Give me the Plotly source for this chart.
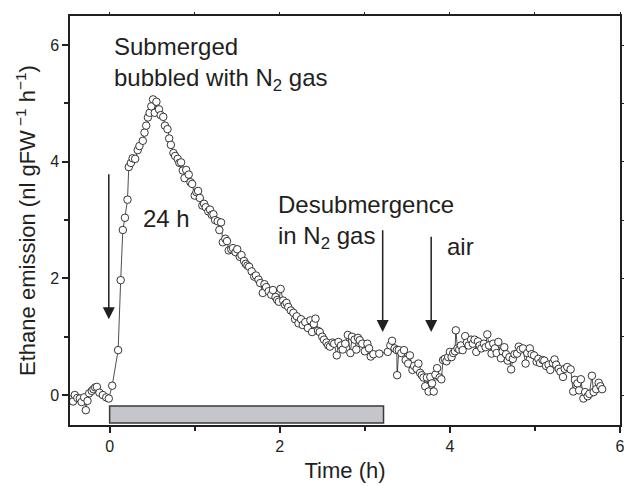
import plotly.graph_objects as go

# ---- data ----
time_h = [
    -0.46, -0.43, -0.41, -0.38, -0.35, -0.33, -0.30, -0.28, -0.26, -0.24, -0.21, -0.19, -0.17, -0.15, -0.12, -0.08, -0.04, -0.01,
    0.03, 0.10, 0.13, 0.155, 0.18, 0.21, 0.225, 0.25, 0.27, 0.30, 0.33, 0.35, 0.39, 0.41, 0.43, 0.45, 0.47, 0.49, 0.51, 0.53,
    0.55, 0.58, 0.60, 0.63, 0.65, 0.68, 0.70, 0.72, 0.75, 0.77, 0.80, 0.82, 0.84, 0.86, 0.88, 0.90, 0.93, 0.95, 0.97, 1.00,
    1.02, 1.04, 1.06, 1.09, 1.11, 1.13, 1.16, 1.18, 1.20, 1.22, 1.24, 1.27, 1.29, 1.31, 1.33, 1.36, 1.38, 1.40, 1.43, 1.45,
    1.48, 1.50, 1.53, 1.55, 1.58, 1.60, 1.62, 1.64, 1.67, 1.70, 1.72, 1.75, 1.77, 1.80, 1.82, 1.84, 1.87, 1.90, 1.92, 1.95,
    1.97, 1.99, 2.01, 2.04, 2.06, 2.08, 2.10, 2.13, 2.16, 2.18, 2.20, 2.22, 2.25, 2.27, 2.30, 2.33, 2.36, 2.38, 2.40, 2.42,
    2.45, 2.47, 2.50, 2.52, 2.55, 2.57, 2.59, 2.62, 2.64, 2.67, 2.69, 2.72, 2.74, 2.77, 2.80, 2.83, 2.85, 2.88, 2.90, 2.92,
    2.94, 2.97, 3.00, 3.03, 3.05, 3.07, 3.10, 3.17, 3.27, 3.30, 3.32, 3.35, 3.375, 3.38, 3.40, 3.43, 3.46, 3.48, 3.51, 3.53,
    3.56, 3.58, 3.61, 3.63, 3.65, 3.67, 3.69, 3.71, 3.73, 3.75, 3.77, 3.79, 3.81, 3.83, 3.85, 3.88, 3.90, 3.92, 3.94, 3.96,
    3.98, 4.00, 4.02, 4.04, 4.06, 4.07, 4.09, 4.11, 4.13, 4.15, 4.18, 4.20, 4.22, 4.25, 4.27, 4.29, 4.31, 4.33, 4.35, 4.37,
    4.40, 4.42, 4.44, 4.46, 4.49, 4.51, 4.53, 4.55, 4.57, 4.60, 4.62, 4.64, 4.66, 4.68, 4.70, 4.72, 4.74, 4.76, 4.79, 4.81,
    4.83, 4.86, 4.89, 4.91, 4.94, 4.96, 4.99, 5.02, 5.04, 5.06, 5.09, 5.11, 5.13, 5.16, 5.18, 5.21, 5.23, 5.25, 5.28, 5.30,
    5.33, 5.35, 5.38, 5.42, 5.45, 5.47, 5.50, 5.52, 5.54, 5.57, 5.59, 5.62, 5.64, 5.67, 5.69, 5.72, 5.75, 5.77, 5.79,
]
ethane = [
    -0.08, -0.11, 0.00, -0.05, -0.06, -0.12, -0.04, -0.26, -0.10, 0.03, 0.07, 0.10, 0.13, 0.14, 0.04, 0.00, -0.04, -0.06,
    0.16, 0.77, 1.97, 2.83, 3.04, 3.35, 3.91, 3.98, 4.06, 4.05, 4.20, 4.27, 4.36, 4.50, 4.62, 4.76, 4.84, 4.95, 5.07, 4.84,
    5.03, 4.90, 4.80, 4.77, 4.62, 4.56, 4.40, 4.29, 4.15, 4.10, 4.05, 3.98, 3.99, 3.85, 3.72, 3.86, 3.78, 3.65, 3.62, 3.42,
    3.48, 3.50, 3.38, 3.25, 3.28, 3.22, 3.15, 3.18, 3.09, 3.10, 3.00, 2.98, 2.83, 2.96, 2.62, 2.68, 2.64, 2.48, 2.50, 2.52,
    2.45, 2.50, 2.37, 2.40, 2.30, 2.25, 2.22, 2.20, 2.12, 2.03, 2.05, 1.98, 1.92, 1.75, 1.90, 1.85, 1.78, 1.72, 1.80, 1.68,
    1.63, 1.60, 1.82, 1.62, 1.55, 1.58, 1.51, 1.45, 1.41, 1.30, 1.35, 1.23, 1.30, 1.20, 1.25, 1.15, 1.28, 1.08, 1.22, 1.31,
    1.10, 1.08, 1.00, 0.95, 0.90, 0.85, 0.83, 0.90, 0.88, 0.68, 0.91, 0.85, 0.78, 0.88, 1.03, 0.72, 1.00, 0.95, 0.78, 0.98,
    0.94, 0.88, 0.75, 0.88, 0.80, 0.66, 0.70, 0.71, 0.74, 0.85, 0.93, 0.80, 0.77, 0.34, 0.77, 0.72, 0.77, 0.60, 0.54, 0.68,
    0.43, 0.50, 0.45, 0.54, 0.38, 0.34, 0.30, 0.15, 0.30, 0.06, 0.31, 0.20, 0.06, 0.35, 0.46, 0.30, 0.27, 0.60, 0.62, 0.58,
    0.65, 0.74, 0.65, 0.72, 0.75, 1.11, 0.80, 0.78, 0.85, 0.77, 1.01, 0.90, 0.85, 0.95, 0.88, 0.95, 0.74, 0.92, 0.85, 0.80,
    0.88, 0.82, 1.04, 0.85, 0.71, 0.88, 0.80, 0.72, 0.91, 0.63, 0.75, 0.82, 0.70, 0.59, 0.65, 0.44, 0.62, 0.70, 0.71, 0.83,
    0.78, 0.80, 0.54, 0.72, 0.80, 0.70, 0.68, 0.57, 0.62, 0.55, 0.60, 0.59, 0.50, 0.52, 0.43, 0.55, 0.61, 0.52, 0.45, 0.40,
    0.31, 0.45, 0.48, 0.44, 0.06, 0.26, 0.20, 0.08, 0.27, -0.06, 0.05, -0.02, 0.02, 0.33, 0.05, 0.10, 0.21, 0.15, 0.10,
]

x_ticks = [0, 2, 4, 6]
y_ticks = [0, 2, 4, 6]
x_range = [-0.466, 6.0]
y_range = [-0.514, 6.5]

# treatment bar (submerged period) and arrows
bar_start, bar_end = 0.0, 3.22
bar_low, bar_high = -0.48, -0.19
arrow_x = [-0.01, 3.21, 3.78]
arrow_top = [3.81, 2.85, 2.74]
arrow_tip = [1.30, 1.08, 1.08]

INK = "#231f20"
FONT = "Liberation Sans, Arial, Helvetica, sans-serif"

fig = go.Figure()
fig.add_trace(go.Scatter(
    x=time_h, y=ethane, mode="lines+markers",
    line=dict(color=INK, width=0.8),
    marker=dict(symbol="circle", size=7.5, color="white", line=dict(color=INK, width=0.9)),
    showlegend=False, hoverinfo="x+y",
))
# invisible trace to carry the mirrored (top/right) axes
fig.add_trace(go.Scatter(x=[None], y=[None], xaxis="x2", yaxis="y2", showlegend=False))

fig.add_shape(type="rect", xref="x", yref="y", x0=bar_start, x1=bar_end, y0=bar_low, y1=bar_high,
              fillcolor="#c4c6cb", line=dict(color="#3a3a3a", width=1.5), layer="below")

for xa, yt, yb in zip(arrow_x, arrow_top, arrow_tip):
    fig.add_annotation(x=xa, y=yb, ax=xa, ay=yt, xref="x", yref="y", axref="x", ayref="y",
                       text="", showarrow=True, arrowhead=2, arrowsize=1.6, arrowwidth=1.5,
                       arrowcolor=INK)

txt = dict(size=24, color=INK, family=FONT)
fig.add_annotation(x=0.03, y=5.67, xref="x", yref="y", xanchor="left", yanchor="middle",
                   text="Submerged<br>bubbled with N<sub>2</sub> gas", showarrow=False, font=txt, align="left")
fig.add_annotation(x=0.37, y=3.03, xref="x", yref="y", xanchor="left", yanchor="middle",
                   text="24 h", showarrow=False, font=txt, align="left")
fig.add_annotation(x=1.95, y=2.96, xref="x", yref="y", xanchor="left", yanchor="middle",
                   text="Desubmergence<br>in N<sub>2</sub> gas", showarrow=False, font=txt, align="left")
fig.add_annotation(x=3.94, y=2.55, xref="x", yref="y", xanchor="left", yanchor="middle",
                   text="air", showarrow=False, font=txt, align="left")

axis_common = dict(showgrid=False, zeroline=False, showline=True, linecolor=INK, linewidth=1.5,
                   ticks="outside", tickcolor=INK, tickwidth=1.5, ticklen=6,
                   tickfont=dict(size=16, color=INK, family=FONT))
fig.update_layout(
    width=630, height=486,
    margin=dict(l=70, r=5, t=16, b=61),
    paper_bgcolor="white", plot_bgcolor="white",
    font=dict(family=FONT, color=INK),
    xaxis=dict(range=x_range, tickvals=x_ticks, ticktext=[str(v) for v in x_ticks],
               minor=dict(tickvals=[1, 3, 5], ticks="outside", ticklen=4, tickcolor=INK, tickwidth=1.5),
               title=dict(text="Time (h)", font=dict(size=22, color=INK, family=FONT), standoff=9),
               **axis_common),
    yaxis=dict(range=y_range, tickvals=y_ticks, ticktext=[str(v) for v in y_ticks],
               minor=dict(tickvals=[1, 3, 5], ticks="outside", ticklen=4, tickcolor=INK, tickwidth=1.5),
               title=dict(text="Ethane emission (nl gFW<sup> \u22121</sup> h<sup>\u22121</sup>)",
                          font=dict(size=22, color=INK, family=FONT), standoff=8),
               **axis_common),
    xaxis2=dict(overlaying="x", side="top", range=x_range, tickvals=[0, 1, 2, 3, 4, 5, 6],
                showticklabels=False, showgrid=False, zeroline=False, showline=True, linecolor=INK,
                linewidth=1.5, ticks="outside", ticklen=2, tickcolor=INK, tickwidth=1.2),
    yaxis2=dict(overlaying="y", side="right", range=y_range, tickvals=[0, 1, 2, 3, 4, 5, 6],
                showticklabels=False, showgrid=False, zeroline=False, showline=True, linecolor=INK,
                linewidth=1.5, ticks="outside", ticklen=2, tickcolor=INK, tickwidth=1.2),
)

fig.write_html("out.html")
